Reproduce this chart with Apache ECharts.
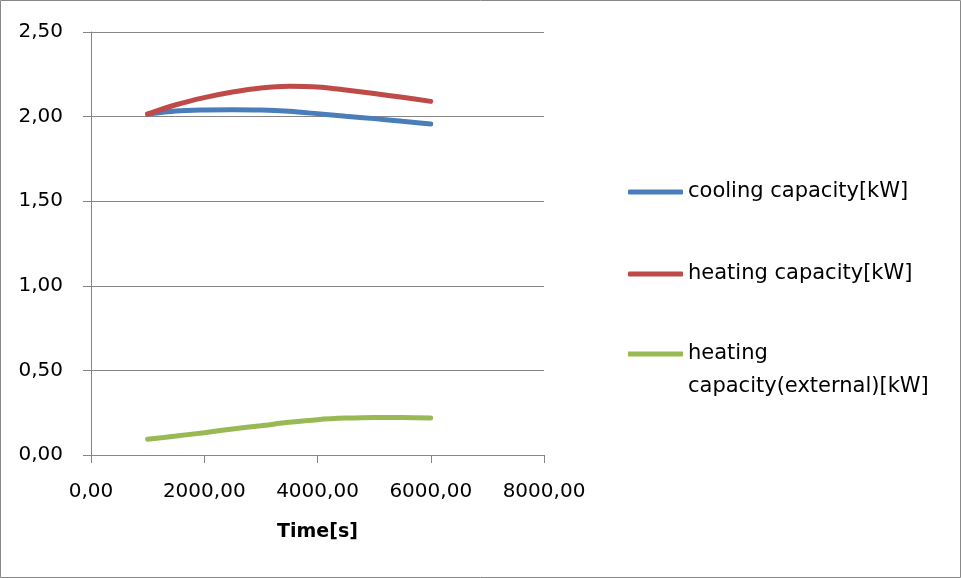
<!DOCTYPE html>
<html>
<head>
<meta charset="utf-8">
<script src="https://cdn.jsdelivr.net/npm/echarts@6/dist/echarts.min.js"></script>
<style>
html,body{margin:0;padding:0;background:#fff;}
#c{width:961px;height:578px;}
</style>
</head>
<body>
<div id="c"></div>
<script>
var times = [1000, 1500, 2000, 2500, 3000, 3500, 4000, 4500, 5000, 5500, 6000];
var coolingCapacity = [2.015, 2.033, 2.039, 2.041, 2.039, 2.031, 2.017, 2.002, 1.988, 1.972, 1.956];
var heatingCapacity = [2.015, 2.07, 2.112, 2.145, 2.169, 2.179, 2.175, 2.157, 2.136, 2.114, 2.09];
var heatingExternal = [0.093, 0.112, 0.132, 0.154, 0.173, 0.193, 0.209, 0.218, 0.222, 0.222, 0.219];
var seriesNames = ['cooling capacity[kW]', 'heating capacity[kW]', 'heating capacity(external)[kW]'];
var xTicks = [0, 2000, 4000, 6000, 8000];
var yTicks = [0, 0.5, 1, 1.5, 2, 2.5];

function pairs(ys){ return times.map(function(t,i){ return [t, ys[i]]; }); }
function fmt(v){ return v.toFixed(2).replace('.', ','); }

var colors = ['#4A7EBB', '#BE4B48', '#98B954'];
var font = 'DejaVu Sans';
var axisGray = '#868686';

var chart = echarts.init(document.getElementById('c'));
function legendCfg(name, top, multi){
  return {
    data: [name],
    left: 628,
    top: top,
    orient: 'vertical',
    icon: multi ? 'path://M0,0L55,0L55,5L0,5Z M0,38L55,38' : 'roundRect',
    itemWidth: 55,
    itemHeight: multi ? 38 : 5,
    itemGap: 0,
    padding: 0,
    selectedMode: false,
    formatter: multi ? function(){ return 'heating\ncapacity(external)[kW]'; } : undefined,
    textStyle: {
      fontFamily: font, fontSize: 21, color: '#000', lineHeight: 33
    }
  };
}
chart.setOption({
  animation: false,
  color: colors,
  graphic: [{
    type: 'rect', shape: {x: 0.5, y: 0.5, width: 960, height: 577},
    style: {fill: 'none', stroke: '#888', lineWidth: 1}, silent: true
  }],
  grid: {left: 91, top: 32, width: 453, height: 423, containLabel: false},
  legend: [
    legendCfg(seriesNames[0], 192 - 16.5, false),
    legendCfg(seriesNames[1], 274 - 16.5, false),
    legendCfg(seriesNames[2], 354 - 16.5, true)
  ],
  xAxis: {
    type: 'value', min: 0, max: 8000, interval: 2000,
    name: 'Time[s]', nameLocation: 'middle', nameGap: 68,
    nameTextStyle: {fontFamily: font, fontSize: 19, fontWeight: 'bold', color: '#000'},
    axisLine: {show: true, lineStyle: {color: axisGray, width: 1}},
    axisTick: {show: true, length: 8, lineStyle: {color: axisGray}},
    axisLabel: {fontFamily: font, fontSize: 20, color: '#000', margin: 27, formatter: fmt},
    splitLine: {show: false}
  },
  yAxis: {
    type: 'value', min: 0, max: 2.5, interval: 0.5,
    axisLine: {show: true, lineStyle: {color: axisGray, width: 1}},
    axisTick: {show: true, length: 8, lineStyle: {color: axisGray}},
    axisLabel: {fontFamily: font, fontSize: 20, color: '#000', margin: 28, formatter: fmt},
    splitLine: {show: true, lineStyle: {color: axisGray, width: 1}}
  },
  series: [
    {name: seriesNames[0], type: 'line', data: pairs(coolingCapacity), smooth: 0.3, showSymbol: false,
     lineStyle: {width: 5, color: colors[0], cap: 'round'}},
    {name: seriesNames[1], type: 'line', data: pairs(heatingCapacity), smooth: 0.3, showSymbol: false,
     lineStyle: {width: 5, color: colors[1], cap: 'round'}},
    {name: seriesNames[2], type: 'line', data: pairs(heatingExternal), smooth: 0.3, showSymbol: false,
     lineStyle: {width: 5, color: colors[2], cap: 'round'}}
  ]
});
</script>
</body>
</html>
